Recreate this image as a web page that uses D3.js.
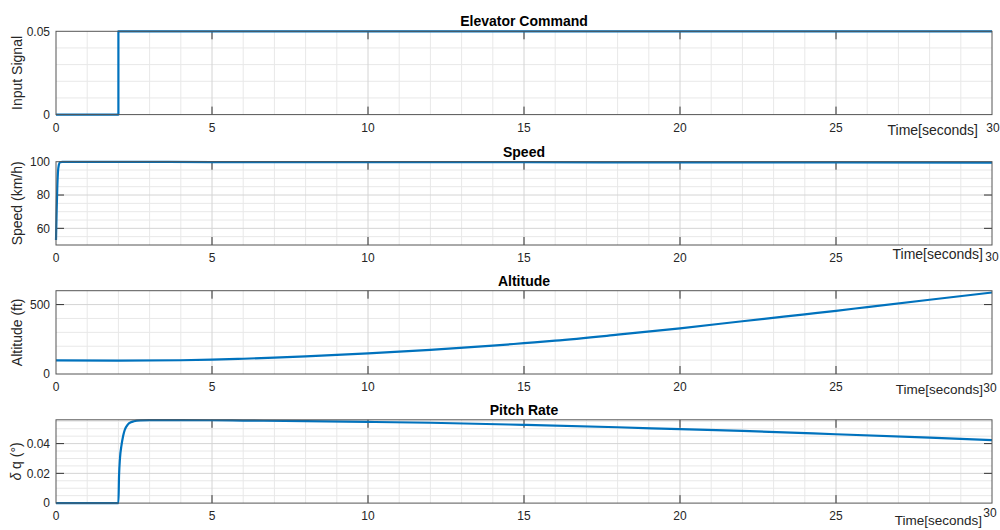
<!DOCTYPE html>
<html>
<head>
<meta charset="utf-8">
<script src="https://cdn.jsdelivr.net/npm/d3@7"></script>
<style>
  body { margin: 0; background: #fff; }
  svg { font-family: "Liberation Sans", Arial, sans-serif; }
  .tick-label { font-size: 12px; fill: #262626; }
  .title { font-size: 14px; font-weight: bold; fill: #000; }
  .ylab, .xlab { font-size: 14px; fill: #262626; }
</style>
</head>
<body>
<div id="chart"></div>
<script>
// values
const titles = ['Elevator Command', 'Speed', 'Altitude', 'Pitch Rate'];
const yLabels = ['Input Signal', 'Speed (km/h)', 'Altitude (ft)', 'δ q (°)'];
const xTicks = [0, 5, 10, 15, 20, 25, 30];

const timeElev = [0, 2, 2, 30];
const elevCmd = [0, 0, 0.05, 0.05];

const timeSpeed = [0, 0.02, 0.04, 0.06, 0.09, 0.13, 0.2, 0.5, 1, 5, 10, 15, 20, 25, 30];
const speed = [53, 70, 84, 93, 98, 99.6, 99.9, 99.9, 99.9, 99.8, 99.7, 99.7, 99.6, 99.6, 99.5];

const timeAlt = [0, 2, 4, 5, 6, 7, 8, 10, 12, 14, 15, 16, 18, 20, 22, 24, 25, 26, 28, 30];
const altitude = [98, 97, 99, 103, 110, 118, 127, 149, 174, 204, 222, 240, 283, 329, 380, 430, 455, 482, 535, 587];

const timePitch = [0, 2, 2.02, 2.05, 2.1, 2.15, 2.2, 2.3, 2.4, 2.5, 2.7, 3, 4, 5, 6, 8, 10, 12, 15, 18, 20, 22, 25, 28, 30];
const pitchRate = [0, 0, 0.018, 0.03, 0.039, 0.045, 0.049, 0.0528, 0.0543, 0.055, 0.0556, 0.0558, 0.0558, 0.0557, 0.0555, 0.0551, 0.0546, 0.054, 0.0526, 0.051, 0.0497, 0.0485, 0.0463, 0.044, 0.0424];

const yDomains = [[0, 0.05], [50, 100], [0, 600], [0, 0.056]];
const yTicks = [[0, 0.05], [60, 80, 100], [0, 500], [0, 0.02, 0.04]];
const yMinorStep = [0.01, 5, 100, 0.005];
const yFormats = [d => d === 0 ? '0' : d3.format('.2f')(d), d3.format('d'), d3.format('d'), d => d === 0 ? '0' : d3.format('.2f')(d)];

const series = [
  [timeElev, elevCmd],
  [timeSpeed, speed],
  [timeAlt, altitude],
  [timePitch, pitchRate]
];

const width = 1000, height = 530;
const left = 56, right = 992;
const tops = [31.3, 161.7, 290.7, 419.8];
const panelH = 83.3;
// placement of the "Time[seconds]" label and the "30" tick label per panel
const timeLab = [{x: 978, y: 130, fs: 14}, {x: 983, y: 254, fs: 14}, {x: 983, y: 389, fs: 13.5}, {x: 982, y: 520, fs: 13.5}];
const thirty = [{x: 993, y: 128}, {x: 992, y: 257}, {x: 990, y: 388}, {x: 990, y: 513}];

const svg = d3.select('#chart').append('svg')
    .attr('width', width)
    .attr('height', height);

const x = d3.scaleLinear().domain([0, 30]).range([left, right]);

series.forEach((s, i) => drawPanel(i, s[0], s[1]));

function drawPanel(i, ts, vs) {
  const top = tops[i], bottom = top + panelH;
  const y = d3.scaleLinear().domain(yDomains[i]).range([bottom, top]);
  const g = svg.append('g');

  // minor grid
  const xMinor = d3.range(1, 30).filter(t => t % 5 !== 0);
  g.selectAll('.xminor').data(xMinor).enter().append('line')
      .attr('x1', d => x(d)).attr('x2', d => x(d))
      .attr('y1', top).attr('y2', bottom)
      .attr('stroke', '#e8e8e8').attr('stroke-width', 1);
  const dom = yDomains[i], st = yMinorStep[i];
  const yMinor = d3.range(1, Math.floor((dom[1] - dom[0]) / st + 1e-6) + 1)
      .map(k => dom[0] + k * st)
      .filter(v => v < dom[1] - 1e-9 && !yTicks[i].some(t => Math.abs(t - v) < 1e-9));
  g.selectAll('.yminor').data(yMinor).enter().append('line')
      .attr('x1', left).attr('x2', right)
      .attr('y1', d => y(d)).attr('y2', d => y(d))
      .attr('stroke', '#e8e8e8').attr('stroke-width', 1);

  // major grid
  g.selectAll('.xmajor').data(xTicks.slice(1, -1)).enter().append('line')
      .attr('x1', d => x(d)).attr('x2', d => x(d))
      .attr('y1', top).attr('y2', bottom)
      .attr('stroke', '#d4d4d4').attr('stroke-width', 1);
  g.selectAll('.ymajor').data(yTicks[i].filter(v => v > dom[0] && v < dom[1])).enter().append('line')
      .attr('x1', left).attr('x2', right)
      .attr('y1', d => y(d)).attr('y2', d => y(d))
      .attr('stroke', '#d4d4d4').attr('stroke-width', 1);

  // ticks pointing inward on all four sides
  const tl = 8;
  g.selectAll('.xtb').data(xTicks.slice(1, -1)).enter().append('line')
      .attr('x1', d => x(d)).attr('x2', d => x(d))
      .attr('y1', bottom).attr('y2', bottom - tl)
      .attr('stroke', '#333');
  g.selectAll('.xtt').data(xTicks.slice(1, -1)).enter().append('line')
      .attr('x1', d => x(d)).attr('x2', d => x(d))
      .attr('y1', top).attr('y2', top + tl)
      .attr('stroke', '#333');
  const innerY = yTicks[i].filter(v => v > dom[0] && v < dom[1]);
  g.selectAll('.ytl').data(innerY).enter().append('line')
      .attr('x1', left).attr('x2', left + tl)
      .attr('y1', d => y(d)).attr('y2', d => y(d))
      .attr('stroke', '#333');
  g.selectAll('.ytr').data(innerY).enter().append('line')
      .attr('x1', right).attr('x2', right - tl)
      .attr('y1', d => y(d)).attr('y2', d => y(d))
      .attr('stroke', '#333');

  // data line
  const pts = ts.map((t, k) => [t, vs[k]]);
  g.append('path')
      .datum(pts)
      .attr('fill', 'none')
      .attr('stroke', '#0072BD')
      .attr('stroke-width', 2.2)
      .attr('stroke-linejoin', 'round')
      .attr('d', d3.line().x(d => x(d[0])).y(d => y(d[1])).curve(d3.curveMonotoneX));

  // box
  g.append('rect')
      .attr('x', left).attr('y', top)
      .attr('width', right - left).attr('height', panelH)
      .attr('fill', 'none').attr('stroke', '#555').attr('stroke-width', 1);

  // x tick labels
  g.selectAll('.xl').data(xTicks.slice(0, -1)).enter().append('text')
      .attr('class', 'tick-label')
      .attr('x', d => x(d)).attr('y', bottom + 13)
      .attr('dy', '0.35em')
      .attr('text-anchor', 'middle')
      .text(d => d);
  g.append('text')
      .attr('class', 'tick-label')
      .attr('x', thirty[i].x).attr('y', thirty[i].y)
      .attr('dy', '0.35em')
      .attr('text-anchor', 'middle')
      .text(xTicks[xTicks.length - 1]);

  // y tick labels
  g.selectAll('.yl').data(yTicks[i]).enter().append('text')
      .attr('class', 'tick-label')
      .attr('x', left - 6).attr('y', d => y(d))
      .attr('dy', '0.35em')
      .attr('text-anchor', 'end')
      .text(yFormats[i]);

  // labels
  g.append('text')
      .attr('class', 'title')
      .attr('x', (left + right) / 2).attr('y', top - 5)
      .attr('text-anchor', 'middle')
      .text(titles[i]);

  g.append('text')
      .attr('class', 'xlab')
      .attr('x', timeLab[i].x).attr('y', timeLab[i].y)
      .attr('dy', '0.35em')
      .attr('text-anchor', 'end')
      .style('font-size', timeLab[i].fs + 'px')
      .text('Time[seconds]');

  const yl = g.append('text')
      .attr('class', 'ylab')
      .attr('transform', 'translate(' + (i === 3 ? 21 : 22) + ',' + (top + panelH / 2) + ') rotate(-90)')
      .attr('text-anchor', 'middle');
  const label = yLabels[i];
  if (label.startsWith('δ')) {
    // TeX-style greek letter, drawn italic
    yl.append('tspan').style('font-style', 'italic').text('δ');
    yl.append('tspan').text(label.slice(1));
  } else {
    yl.text(label);
  }
}
</script>
</body>
</html>
